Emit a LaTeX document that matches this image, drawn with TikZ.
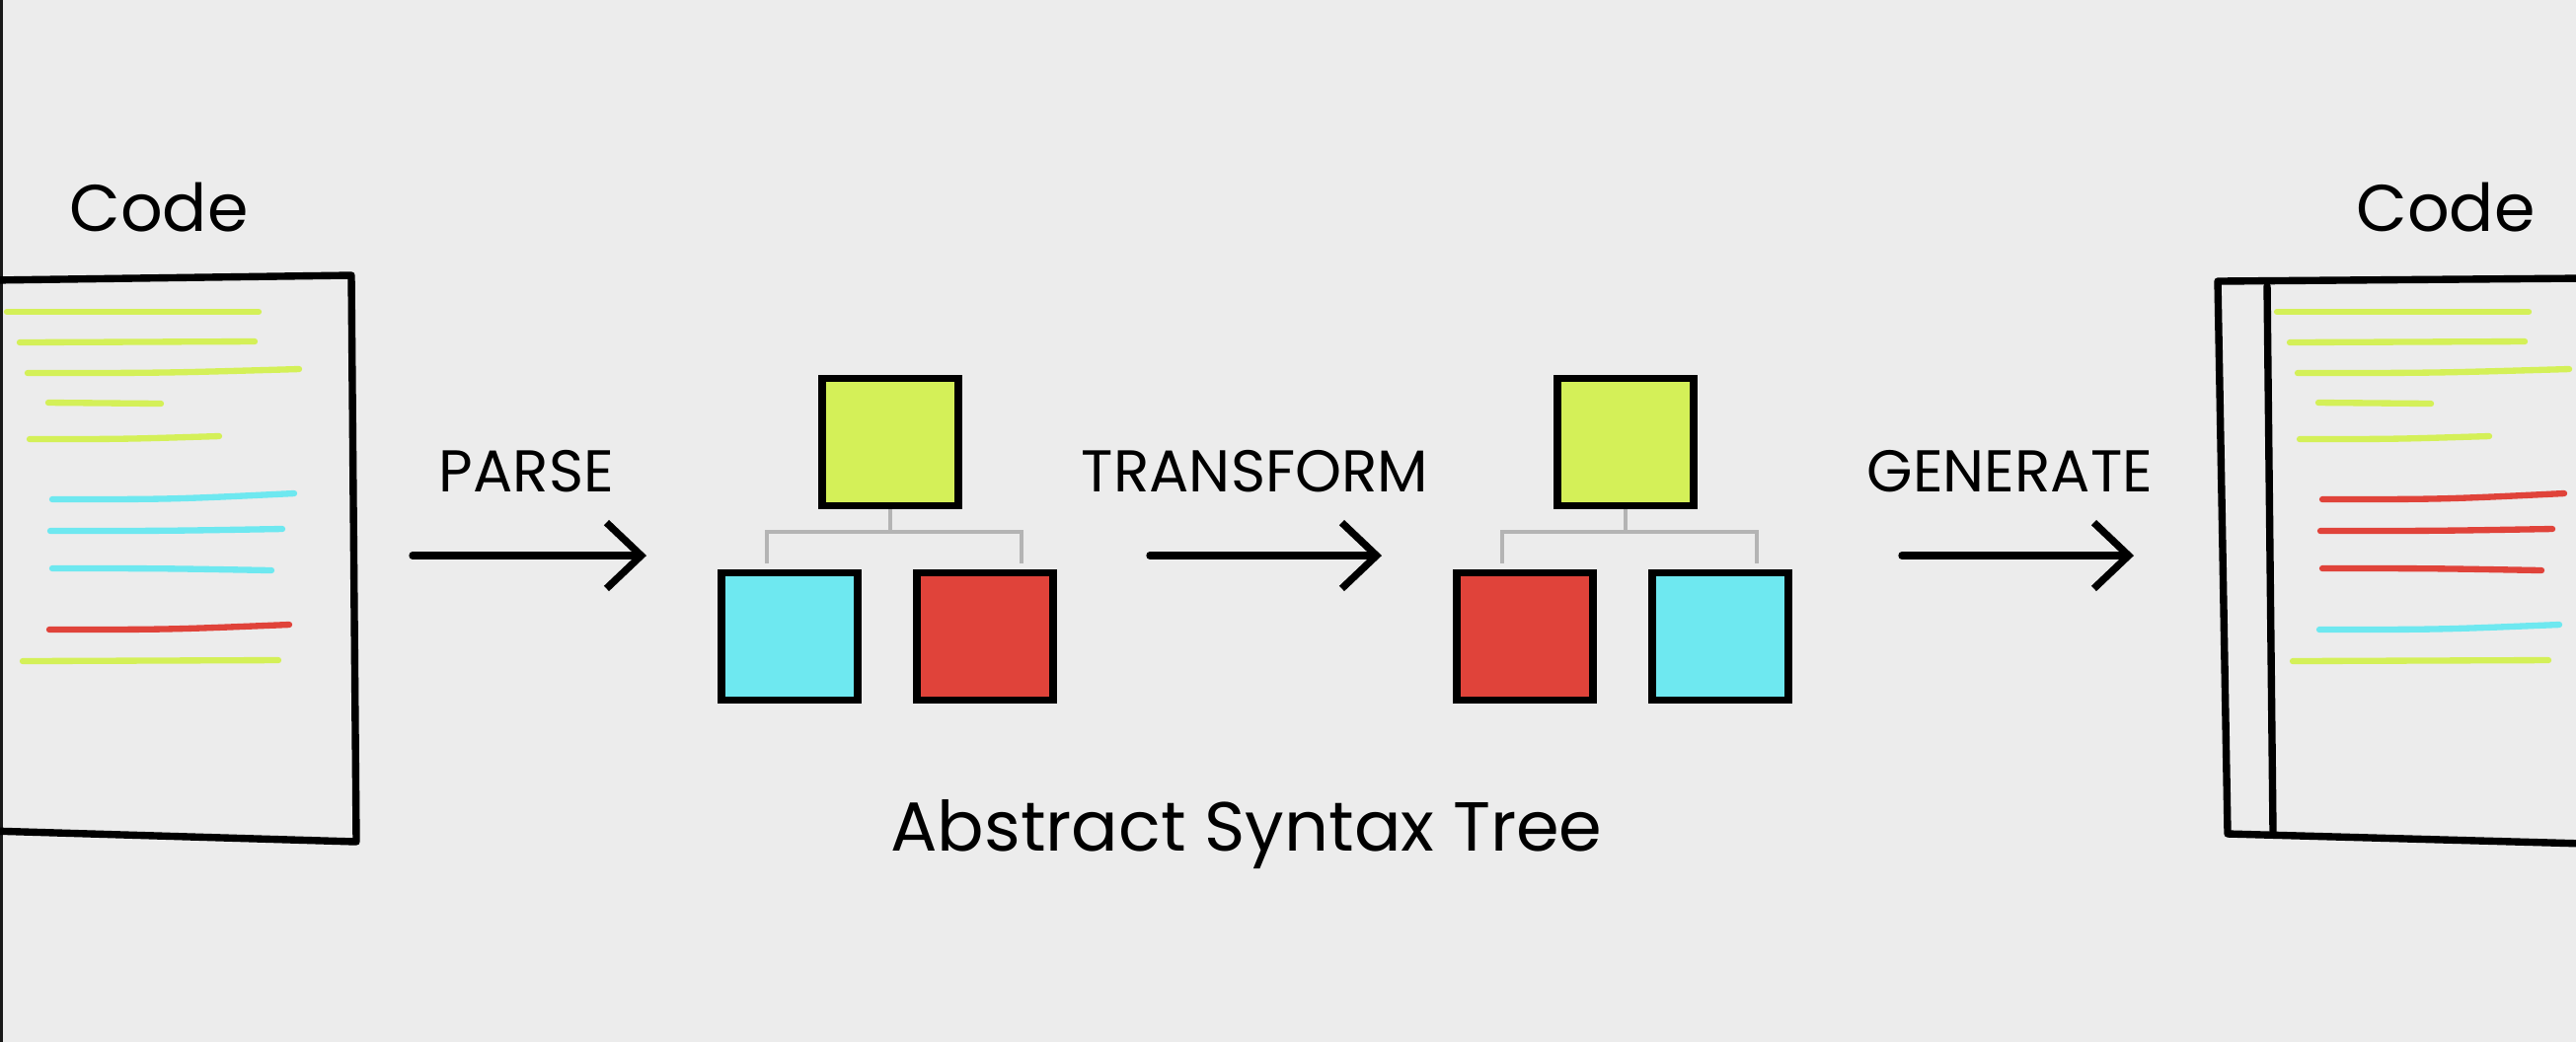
\documentclass[tikz,border=0pt]{standalone}
\usepackage{fontspec}
\usetikzlibrary{arrows.meta}
\newfontfamily\handfont{Poppins}
\definecolor{paper}{HTML}{ECECEC}
\definecolor{astyellow}{HTML}{D4F058}
\definecolor{astcyan}{HTML}{6EE8F0}
\definecolor{astred}{HTML}{E0433A}
\definecolor{twig}{HTML}{B4B4B4}
\tikzset{
  block/.style={draw=black, line width=2.1pt, minimum width=1.38cm, minimum height=1.29cm, inner sep=0pt},
  branch/.style={draw=twig, line width=1.1pt},
  flow/.style={line width=2.1pt, line cap=round, -{Straight Barb[length=10pt,width=19pt]}},
  panel/.style={line width=2.1pt, line join=round, line cap=round},
  codeline/.style={line width=1.8pt, line cap=round},
  lbl/.style={font=\handfont\fontsize{17pt}{19pt}\selectfont, inner sep=0pt},
  title/.style={font=\handfont\fontsize{19pt}{22pt}\selectfont, inner sep=0pt}
}
\begin{document}
\begin{tikzpicture}[x=0.01cm,y=-0.01cm]
\fill[paper] (0,0) rectangle (2610,1056);
\useasboundingbox (0,0) rectangle (2610,1056);
\fill[black!90] (0,0) rectangle (3,1056);

% source page
\draw[panel] (-10,284) -- (356,279) -- (361,853) -- (-10,842);
\foreach \y/\a/\b/\r/\c in {316/7/262/0/astyellow, 347/20/258/1/astyellow, 378/28/303/4/astyellow,
    408/49/163/-1/astyellow, 445/30/222/3/astyellow, 506/53/298/6/astcyan, 538/51/286/2/astcyan,
    576/53/275/-2/astcyan, 638/50/293/5/astred, 670/23/282/1/astyellow}
  \draw[codeline,\c] (\a,\y) .. controls ({(\a+\b)/2},\y) .. (\b,\y-\r);
\node[title,anchor=base] (code1) at (161,234) {Code};

% generated page
\draw[panel] (2620,282) -- (2247,285) -- (2252,560) -- (2257,845) -- (2620,855);
\draw[panel] (2297,290) -- (2303,845);
\foreach \y/\a/\b/\r/\c in {316/7/262/0/astyellow, 347/20/258/1/astyellow, 378/28/303/4/astyellow,
    408/49/163/-1/astyellow, 445/30/222/3/astyellow, 506/53/298/6/astred, 538/51/286/2/astred,
    576/53/275/-2/astred, 638/50/293/5/astcyan, 670/23/282/1/astyellow}
  \draw[codeline,\c] (\a+2300,\y) .. controls ({(\a+\b)/2+2300},\y) .. (\b+2300,\y-\r);
\node[title,anchor=base] (code2) at (2478,234) {Code};

% first tree
\node[block,fill=astyellow] (root1) at (902,448) {};
\node[block,fill=astcyan] (kid1a) at (800,645) {};
\node[block,fill=astred] (kid1b) at (998,645) {};
\draw[branch] (root1.south) -- ++(0,23);
\draw[branch] ([xshift=-0.23cm,yshift=0.06cm]kid1a.north) |- ([yshift=-0.23cm]root1.south)
  -| ([xshift=0.37cm,yshift=0.06cm]kid1b.north);

% second tree
\node[block,fill=astyellow] (root2) at (1647,448) {};
\node[block,fill=astred] (kid2a) at (1545,645) {};
\node[block,fill=astcyan] (kid2b) at (1743,645) {};
\draw[branch] (root2.south) -- ++(0,23);
\draw[branch] ([xshift=-0.23cm,yshift=0.06cm]kid2a.north) |- ([yshift=-0.23cm]root2.south)
  -| ([xshift=0.37cm,yshift=0.06cm]kid2b.north);

\node[title,anchor=base,font=\handfont\fontsize{20pt}{22pt}\selectfont] (ast) at (1263,862) {Abstract Syntax Tree};

% steps
\coordinate (pa) at (418,563);
\coordinate (pb) at (655,563);
\coordinate (ta) at (1165,563);
\coordinate (tb) at (1400,563);
\coordinate (ga) at (1927,563);
\coordinate (gb) at (2162,563);
\draw[flow] (pa) to node[lbl,above=0.6cm,xshift=-0.03cm]{PARSE} (pb);
\draw[flow] (ta) to node[lbl,above=0.6cm,xshift=-0.11cm]{TRANSFORM} (tb);
\draw[flow] (ga) to node[lbl,above=0.6cm,xshift=-0.08cm]{GENERATE} (gb);
\end{tikzpicture}
\end{document}
